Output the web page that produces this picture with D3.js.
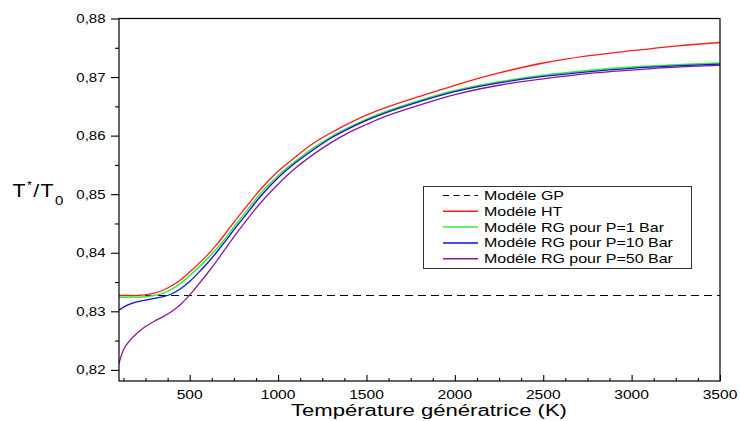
<!DOCTYPE html>
<html>
<head>
<meta charset="utf-8">
<script src="https://cdn.jsdelivr.net/npm/d3@7"></script>
<style>
  html, body { margin: 0; padding: 0; background: #fff; }
  svg { display: block; font-family: "Liberation Sans", Arial, sans-serif; }
</style>
</head>
<body>
<svg id="chart" width="740" height="421"></svg>
<script>
// Generating temperature (K) sampled along every model curve
const temps = [100, 125, 150, 200, 250, 300, 350, 400, 450, 500,
               550, 600, 650, 700, 750, 800,
               900, 1000, 1100, 1200, 1300, 1400, 1500, 1600,
               1800, 2000, 2250, 2500, 2750, 3000, 3250, 3500];

// T*/T0 for each model
const modelHT = [0.8327, 0.8327, 0.8327, 0.8327, 0.8328, 0.8331, 0.8336, 0.8344, 0.8354, 0.8367,
                 0.8381, 0.8396, 0.8413, 0.8432, 0.8452, 0.8471,
                 0.8508, 0.8539, 0.8564, 0.8587, 0.8605, 0.8621, 0.8635, 0.8647,
                 0.8667, 0.8686, 0.8707, 0.8724, 0.8736, 0.8745, 0.8753, 0.8759];
const modelRG1 = [0.8324, 0.8324, 0.8324, 0.8324, 0.8325, 0.8327, 0.8331, 0.8338, 0.8348, 0.8361,
                  0.8375, 0.8390, 0.8406, 0.8424, 0.8444, 0.8463,
                  0.8501, 0.8532, 0.8557, 0.8579, 0.8598, 0.8614, 0.8628, 0.8640,
                  0.8660, 0.8677, 0.8692, 0.8703, 0.8711, 0.8717, 0.8721, 0.8724];
const modelRG10 = [0.8302, 0.8307, 0.8311, 0.8316, 0.8319, 0.8322, 0.8325, 0.8330, 0.8339, 0.8351,
                   0.8366, 0.8382, 0.8400, 0.8419, 0.8439, 0.8458,
                   0.8496, 0.8528, 0.8554, 0.8576, 0.8596, 0.8612, 0.8626, 0.8638,
                   0.8658, 0.8675, 0.8690, 0.8701, 0.8709, 0.8715, 0.8719, 0.8722];
const modelRG50 = [0.8211, 0.8234, 0.8246, 0.8262, 0.8274, 0.8283, 0.8291, 0.8300, 0.8312, 0.8328,
                   0.8346, 0.8365, 0.8385, 0.8406, 0.8427, 0.8447,
                   0.8485, 0.8517, 0.8545, 0.8568, 0.8588, 0.8605, 0.8619, 0.8632,
                   0.8652, 0.8670, 0.8686, 0.8697, 0.8706, 0.8712, 0.8717, 0.8720];
// Perfect-gas model: constant ratio
const gpTemps = [100, 3500];
const modelGP = [0.8327, 0.8327];

// Axis ticks
const xTicks = [500, 1000, 1500, 2000, 2500, 3000, 3500];
const xMinorTicks = [125, 250, 375, 625, 750, 875, 1125, 1250, 1375, 1625, 1750, 1875,
                     2125, 2250, 2375, 2625, 2750, 2875, 3125, 3250, 3375];
const yTicks = [0.82, 0.83, 0.84, 0.85, 0.86, 0.87, 0.88];
const yMinorTicks = [0.825, 0.835, 0.845, 0.855, 0.865, 0.875];

const legendLabels = ["Modéle GP", "Modéle HT", "Modéle RG pour P=1 Bar",
                      "Modéle RG pour P=10 Bar", "Modéle RG pour P=50 Bar"];

const svg = d3.select("#chart");
const plot = { left: 119, right: 720, top: 18.5, bottom: 381 };

const x = d3.scaleLinear().domain([100, 3500]).range([plot.left, plot.right]);
const y = d3.scaleLinear().domain([0.8181, 0.88]).range([plot.bottom, plot.top]);

const fr = d3.formatLocale({ decimal: ",", thousands: ".", grouping: [3], currency: ["", ""] });
const fmtY = fr.format(".2f");

// Horizontally widened text, as in the original export
function wide(sel, px, py, sx) {
  sel.attr("transform", `translate(${px},${py}) scale(${sx},1)`);
  return sel;
}

// Clip for the curves
svg.append("defs").append("clipPath").attr("id", "plotclip")
  .append("rect")
  .attr("x", plot.left).attr("y", plot.top)
  .attr("width", plot.right - plot.left).attr("height", plot.bottom - plot.top);

const series = [
  { name: legendLabels[0], xs: gpTemps, ys: modelGP, color: "#000000", dash: "8,5", width: 1.1 },
  { name: legendLabels[1], xs: temps, ys: modelHT, color: "#ff1a1a", dash: null, width: 1.3 },
  { name: legendLabels[2], xs: temps, ys: modelRG1, color: "#33ee33", dash: null, width: 1.5 },
  { name: legendLabels[4], xs: temps, ys: modelRG50, color: "#8b1a8b", dash: null, width: 1.3 },
  { name: legendLabels[3], xs: temps, ys: modelRG10, color: "#1010e0", dash: null, width: 1.3 }
];

const line = d3.line()
  .x(d => x(d[0]))
  .y(d => y(d[1]))
  .curve(d3.curveCatmullRom.alpha(0.5));

const curves = svg.append("g").attr("clip-path", "url(#plotclip)");
series.forEach(s => {
  curves.append("path")
    .datum(s.xs.map((t, i) => [t, s.ys[i]]))
    .attr("fill", "none")
    .attr("stroke", s.color)
    .attr("stroke-width", s.width)
    .attr("stroke-dasharray", s.dash)
    .attr("d", line);
});

// Frame
svg.append("rect")
  .attr("x", plot.left).attr("y", plot.top)
  .attr("width", plot.right - plot.left).attr("height", plot.bottom - plot.top)
  .attr("fill", "none").attr("stroke", "#000").attr("stroke-width", 1.2);

// X axis: ticks pointing into the plot
const xAxis = svg.append("g").attr("transform", `translate(0,${plot.bottom})`);
xAxis.call(d3.axisTop(x).tickValues(xMinorTicks).tickSize(3).tickFormat(""))
  .call(g => g.select(".domain").remove());
const xMajor = svg.append("g").attr("transform", `translate(0,${plot.bottom})`);
xMajor.call(d3.axisTop(x).tickValues(xTicks).tickSize(6).tickFormat(""))
  .call(g => g.select(".domain").remove());

xTicks.forEach(v => {
  wide(svg.append("text"), x(v), 398.5, 1.2)
    .attr("text-anchor", "middle")
    .attr("font-size", 13)
    .attr("fill", "#000")
    .text(v);
});

// Y axis: ticks pointing outward
const yMinorG = svg.append("g").attr("transform", `translate(${plot.left},0)`);
yMinorG.call(d3.axisLeft(y).tickValues(yMinorTicks).tickSize(4).tickFormat(""))
  .call(g => g.select(".domain").remove());
const yMajorG = svg.append("g").attr("transform", `translate(${plot.left},0)`);
yMajorG.call(d3.axisLeft(y).tickValues(yTicks).tickSize(8).tickFormat(""))
  .call(g => g.select(".domain").remove());
svg.selectAll(".tick line").attr("stroke", "#000").attr("stroke-width", 1.1);

yTicks.forEach(v => {
  wide(svg.append("text"), 105.5, y(v) + 4.5, 1.2)
    .attr("text-anchor", "end")
    .attr("font-size", 12.5)
    .attr("fill", "#000")
    .text(fmtY(v));
});

// Axis titles
wide(svg.append("text"), 429, 415.5, 1.38)
  .attr("text-anchor", "middle")
  .attr("font-size", 16)
  .attr("fill", "#000")
  .text("Température génératrice (K)");

const yTitle = wide(svg.append("text"), 12.5, 196.5, 1.15)
  .attr("font-size", 18.6)
  .attr("letter-spacing", 1.2)
  .attr("fill", "#000");
yTitle.append("tspan").text("T");
yTitle.append("tspan").attr("font-size", 11).attr("dy", -8).text("*");
yTitle.append("tspan").attr("dy", 8).text("/T");
yTitle.append("tspan").attr("font-size", 13).attr("dy", 8).text("0");

// Legend
const legend = svg.append("g");
legend.append("rect")
  .attr("x", 423.5).attr("y", 186.5)
  .attr("width", 268).attr("height", 82)
  .attr("fill", "#fff").attr("stroke", "#333").attr("stroke-width", 1);

const legendOrder = [series[0], series[1], series[2], series[4], series[3]];
legendOrder.forEach((s, i) => {
  const cy = 195.5 + i * 15.8;
  legend.append("line")
    .attr("x1", 443).attr("x2", 478)
    .attr("y1", cy).attr("y2", cy)
    .attr("stroke", s.color)
    .attr("stroke-width", s.dash ? 1.1 : 1.5)
    .attr("stroke-dasharray", s.dash ? "6,4.5" : null);
  wide(legend.append("text"), 484, cy + 4.5, 1.27)
    .attr("font-size", 12.6)
    .attr("fill", "#000")
    .text(s.name);
});
</script>
</body>
</html>
